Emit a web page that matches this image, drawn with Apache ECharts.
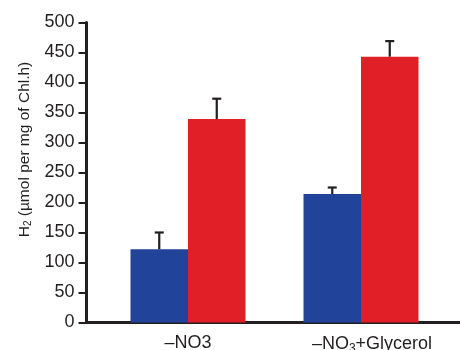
<!DOCTYPE html>
<html><head><meta charset="utf-8">
<script src="https://cdn.jsdelivr.net/npm/echarts@6/dist/echarts.min.js"></script>
<style>html,body{margin:0;padding:0;background:#fff}#c{width:460px;height:350px}</style>
</head><body><div id="c"></div>
<script>
var categories = ['–NO3', '–NO3+Glycerol'];
var blueValues = [122, 214];
var blueErrors = [28, 11];
var redValues = [339, 443];
var redErrors = [34, 26];
var yTicks = [0, 50, 100, 150, 200, 250, 300, 350, 400, 450, 500];

var BLUE = '#21449a', RED = '#e01f26', INK = '#231f20';
var FONT = 'Liberation Sans, Arial, sans-serif';
var BW = 57.5;

function errSeries(values, errors, dir) {
  var data = values.map(function (v, i) { return [i, v, v + errors[i]]; });
  return {
    type: 'custom', xAxisIndex: 1, yAxisIndex: 1, z: 5,
    data: data,
    renderItem: function (params, api) {
      var base = api.coord([api.value(0), api.value(1)]);
      var top = api.coord([api.value(0), api.value(2)]);
      var x = base[0] + dir * BW / 2;
      var cap = 4.5;
      var st = { stroke: INK, lineWidth: 2.2 };
      return { type: 'group', children: [
        { type: 'line', shape: { x1: x, y1: base[1], x2: x, y2: top[1] }, style: st },
        { type: 'line', shape: { x1: x - cap, y1: top[1], x2: x + cap, y2: top[1] }, style: st }
      ]};
    }
  };
}

var catData = categories.map(function (c, i) {
  return i === 1 ? { value: c, textStyle: { padding: [0, 0, 0, 22] } } : c;
});

var chart = echarts.init(document.getElementById('c'), null, { renderer: 'canvas' });
chart.setOption({
  animation: false,
  grid: [
    { left: 86.5, right: 0, top: 22.5, bottom: 27.5, containLabel: false, outerBoundsMode: 'none' },
    { left: 101.5, right: 12.5, top: 22.5, bottom: 27.5, containLabel: false, outerBoundsMode: 'none' }
  ],
  xAxis: [
    { gridIndex: 0, type: 'value', min: 0, max: 1, axisLine: { show: true, lineStyle: { color: INK, width: 3 } },
      axisTick: { show: false }, axisLabel: { show: false }, splitLine: { show: false } },
    { gridIndex: 1, type: 'category', data: catData, axisLine: { show: false }, axisTick: { show: false },
      axisLabel: { interval: 0, margin: 12, color: INK, fontFamily: FONT, fontSize: 18,
        formatter: function (v) { return v.indexOf('+') >= 0 ? v.replace('NO3', 'NO{s|3}') : v; },
        rich: { s: { fontSize: 12, fontFamily: FONT, color: INK, padding: [8, 0, 0, 0] } } } }
  ],
  yAxis: [
    { gridIndex: 0, type: 'value', min: yTicks[0], max: yTicks[yTicks.length - 1], interval: yTicks[1] - yTicks[0],
      axisLine: { show: true, lineStyle: { color: INK, width: 3 } },
      axisTick: { show: true, length: 8, lineStyle: { color: INK, width: 2 } },
      axisLabel: { margin: 12, color: INK, fontFamily: FONT, fontSize: 18 },
      splitLine: { show: false },
      name: '{h|H}{s|2}{h| (µmol per mg of Chl.h)}', nameLocation: 'middle', nameRotate: 90, nameGap: 53,
      nameTextStyle: { padding: [0, 0, 0, 46],
        rich: { h: { fontSize: 15.5, fontFamily: FONT, color: INK },
                s: { fontSize: 10, fontFamily: FONT, color: INK, padding: [7, 0, 0, 0] } } } },
    { gridIndex: 1, type: 'value', min: 0, max: 500, show: false, splitLine: { show: false } }
  ],
  series: [
    { type: 'bar', xAxisIndex: 1, yAxisIndex: 1, data: blueValues, barWidth: BW, barGap: '0%', itemStyle: { color: BLUE } },
    { type: 'bar', xAxisIndex: 1, yAxisIndex: 1, data: redValues, barWidth: BW, barGap: '0%', itemStyle: { color: RED } },
    errSeries(blueValues, blueErrors, -1),
    errSeries(redValues, redErrors, 1)
  ]
});
</script></body></html>
